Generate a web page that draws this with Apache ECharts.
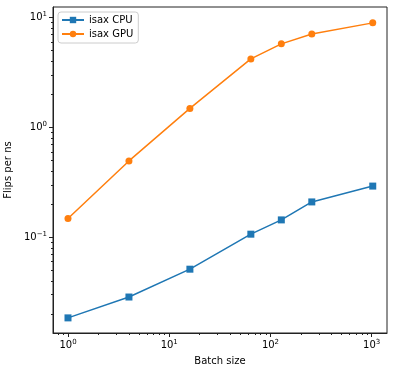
<!DOCTYPE html>
<html><head><meta charset="utf-8">
<script src="https://cdn.jsdelivr.net/npm/echarts@6/dist/echarts.min.js"></script>
<style>html,body{margin:0;padding:0;background:#fff}#c{width:394px;height:375px}</style>
</head><body><div id="c"></div>
<script>
const batchSizes = [1, 4, 16, 64, 128, 256, 1024];
const cpuFlips = [0.0184, 0.0285, 0.0511, 0.1065, 0.1437, 0.2095, 0.292];
const gpuFlips = [0.148, 0.495, 1.49, 4.21, 5.77, 7.1, 8.96];
const xTickValues = [1, 10, 100, 1000];
const yTickValues = [0.1, 1, 10];
const xMinorTicks = [0.8, 0.9, 2,3,4,5,6,7,8,9, 20,30,40,50,60,70,80,90, 200,300,400,500,600,700,800,900];
const yMinorTicks = [0.02,0.03,0.04,0.05,0.06,0.07,0.08,0.09, 0.2,0.3,0.4,0.5,0.6,0.7,0.8,0.9, 2,3,4,5,6,7,8,9];
const seriesNames = ['isax CPU', 'isax GPU'];
const colors = ['#1f77b4', '#ff7f0e'];

const xMin = 0.711, xMax = 1416, yMin = 0.0134, yMax = 12.5;
const font = 'DejaVu Sans';
function supFmt(v) {
  const e = Math.round(Math.log10(v));
  return '{b|10}{s|' + (e < 0 ? '\u2212' + (-e) : e) + '}';
}
const rich = {
  b: {fontFamily: font, fontSize: 10, color: '#000'},
  s: {fontFamily: font, fontSize: 7, color: '#000', padding: [0, 0, 6, 0]}
};
const axisBase = {
  type: 'log', logBase: 10, splitLine: {show: false}
};
const chart = echarts.init(document.getElementById('c'));
chart.setOption({
  animation: false,
  color: colors,
  grid: {left: 53, right: 7, top: 7, bottom: 42, show: true, borderColor: '#222', borderWidth: 1,
         containLabel: false, outerBoundsMode: 'none'},
  legend: {
    data: seriesNames, orient: 'vertical', left: 58, top: 12,
    itemWidth: 22, itemHeight: 8, itemGap: 4,
    borderColor: '#ccc', borderWidth: 1, borderRadius: 3, padding: [3, 5, 4, 3],
    backgroundColor: 'rgba(255,255,255,0.8)',
    textStyle: {fontFamily: font, fontSize: 10, color: '#000'}
  },
  xAxis: [
    Object.assign({}, axisBase, {
      min: xMin, max: xMax, position: 'bottom',
      name: 'Batch size', nameLocation: 'middle', nameGap: 23,
      nameTextStyle: {fontFamily: font, fontSize: 10, color: '#000'},
      axisLine: {show: true, onZero: false, lineStyle: {color: '#222', width: 1}},
      axisTick: {show: true, length: 4, customValues: xTickValues, lineStyle: {color: '#222'}},
      axisLabel: {customValues: xTickValues, formatter: supFmt, rich: rich, margin: 6}
    }),
    Object.assign({}, axisBase, {
      min: xMin, max: xMax, position: 'bottom',
      axisLine: {show: false},
      axisTick: {show: true, length: 2, customValues: xMinorTicks, lineStyle: {color: '#222'}},
      axisLabel: {show: false}
    })
  ],
  yAxis: [
    Object.assign({}, axisBase, {
      min: yMin, max: yMax, position: 'left',
      name: 'Flips per ns', nameLocation: 'middle', nameGap: 34,
      nameTextStyle: {fontFamily: font, fontSize: 10, color: '#000'},
      axisLine: {show: true, onZero: false, lineStyle: {color: '#222', width: 1}},
      axisTick: {show: true, length: 4, customValues: yTickValues, lineStyle: {color: '#222'}},
      axisLabel: {customValues: yTickValues, formatter: supFmt, rich: rich, margin: 6}
    }),
    Object.assign({}, axisBase, {
      min: yMin, max: yMax, position: 'left',
      axisLine: {show: false},
      axisTick: {show: true, length: 2, customValues: yMinorTicks, lineStyle: {color: '#222'}},
      axisLabel: {show: false}
    })
  ],
  series: [
    {name: seriesNames[0], type: 'line', xAxisIndex: 0, yAxisIndex: 0,
     data: batchSizes.map((x, i) => [x, cpuFlips[i]]),
     symbol: 'rect', symbolSize: 7, lineStyle: {width: 1.5}, itemStyle: {color: colors[0]}},
    {name: seriesNames[1], type: 'line', xAxisIndex: 0, yAxisIndex: 0,
     data: batchSizes.map((x, i) => [x, gpuFlips[i]]),
     symbol: 'circle', symbolSize: 7, lineStyle: {width: 1.5}, itemStyle: {color: colors[1]}}
  ]
});
</script></body></html>
